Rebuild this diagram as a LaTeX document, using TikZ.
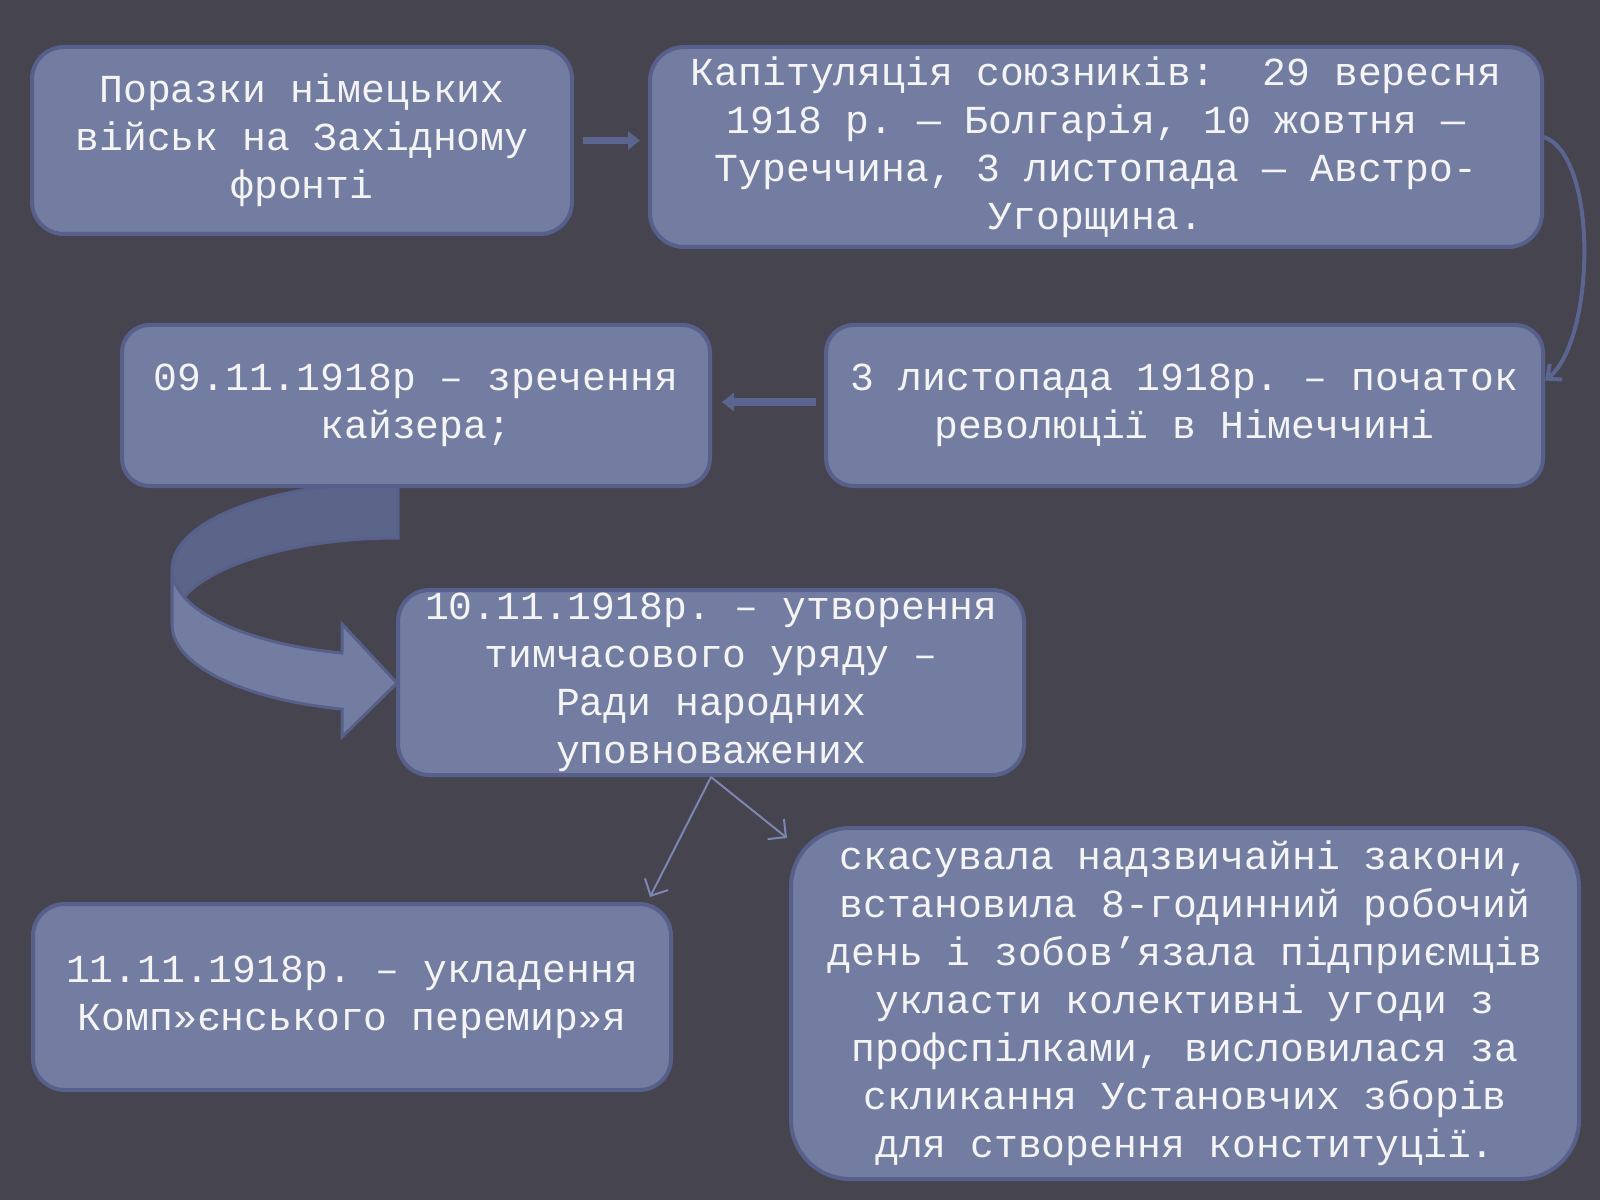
\documentclass[tikz,border=0pt]{standalone}
\usepackage{fontspec}
\newfontfamily\evfont{Liberation Mono}
\usetikzlibrary{arrows.meta}
\definecolor{bgcol}{HTML}{45444F}
\definecolor{boxcol}{HTML}{737CA1}
\definecolor{edgecol}{HTML}{56608A}
\definecolor{backcol}{HTML}{5B6489}
\definecolor{linkcol}{HTML}{5A6590}
\definecolor{pointcol}{HTML}{7C86B0}
\definecolor{txtcol}{HTML}{F4F4F4}

\tikzset{
  event/.style={draw=edgecol, fill=boxcol, line width=0.04cm, text=txtcol,
    font={\evfont\fontsize{11.3pt}{13.66pt}\selectfont\frenchspacing}, align=center, inner sep=0pt},
  flow/.style={draw=linkcol, line width=0.075cm, -{Triangle[length=1.2mm,width=1.8mm]}},
  curvelink/.style={draw=linkcol, line width=0.04cm, -{Straight Barb[length=1.1mm,width=2mm]}},
  pointer/.style={draw=pointcol, line width=0.02cm, -{Straight Barb[length=1.3mm,width=2.6mm]}},
  block/.style={draw=edgecol, line width=0.03cm}
}

\begin{document}
\begin{tikzpicture}
  % Background
  \fill[bgcol] (0,0) rectangle (16,12);
  \useasboundingbox (0,0) rectangle (16,12);
  % Curved block arrow, back band
  \draw[block, fill=backcol] (3.98,7.18) arc[start angle=90, end angle=180, x radius=2.26, y radius=0.869]
    -- (1.72,5.751) arc[start angle=180, end angle=90, x radius=2.26, y radius=0.869] -- cycle;
  % Curved block arrow, front band with head
  \draw[block, fill=boxcol] (1.72,6.311) arc[start angle=180, end angle=255.65, x radius=2.26, y radius=0.869]
    -- (3.42,5.76) -- (3.97,5.17) -- (3.42,4.63) -- (3.42,4.909)
    arc[start angle=255.65, end angle=180, x radius=2.26, y radius=0.869] -- cycle;
  % Events
  \node[event, minimum width=5.40cm, minimum height=1.87cm, rounded corners=0.32cm] (defeat) at (3.02,10.595)
    {Поразки німецьких\\військ на Західному\\фронті};
  \node[event, minimum width=8.92cm, minimum height=2.00cm, rounded corners=0.34cm] (capit) at (10.96,10.53)
    {Капітуляція союзників:~ 29 вересня\\1918 р. — Болгарія, 10 жовтня —\\Туреччина, 3 листопада — Австро-\\Угорщина.};
  \node[event, minimum width=5.88cm, minimum height=1.61cm, rounded corners=0.275cm] (kaiser) at (4.16,7.945)
    {09.11.1918р – зречення\\кайзера;};
  \node[event, minimum width=7.17cm, minimum height=1.61cm, rounded corners=0.275cm] (revol) at (11.845,7.945)
    {3 листопада 1918р. – початок\\революції в Німеччині};
  \node[event, minimum width=6.26cm, minimum height=1.85cm, rounded corners=0.315cm] (gov) at (7.11,5.175)
    {10.11.1918р. – утворення\\тимчасового уряду –\\Ради народних\\уповноважених};
  \node[event, minimum width=6.38cm, minimum height=1.86cm, rounded corners=0.317cm] (truce) at (3.52,2.03)
    {11.11.1918р. – укладення\\Комп»єнського перемир»я};
  \node[event, minimum width=7.88cm, minimum height=3.51cm, rounded corners=0.59cm] (laws) at (11.85,1.965)
    {скасувала надзвичайні закони,\\встановила 8-годинний робочий\\день і зобов’язала підприємців\\укласти колективні угоди з\\профспілками, висловилася за\\скликання Установчих зборів\\для створення конституції.};
  % Connectors
  \draw[flow, shorten <=0.09cm, shorten >=0.08cm] (defeat.east) -- (defeat.east -| capit.west);
  \draw[curvelink] ([yshift=1mm]capit.east) .. controls +(0.55,-0.2) and +(0.5,0.4) .. ([yshift=2.5mm]revol.east);
  \draw[flow, shorten <=0.08cm, shorten >=0.10cm] ([yshift=0.035cm]revol.west) -- ([yshift=0.035cm]kaiser.east);
  \coordinate (tipA) at (6.50,3.03);
  \coordinate (tipB) at (7.87,3.62);
  \draw[pointer] (gov.south) -- (tipA);
  \draw[pointer] (gov.south) -- (tipB);
\end{tikzpicture}
\end{document}
